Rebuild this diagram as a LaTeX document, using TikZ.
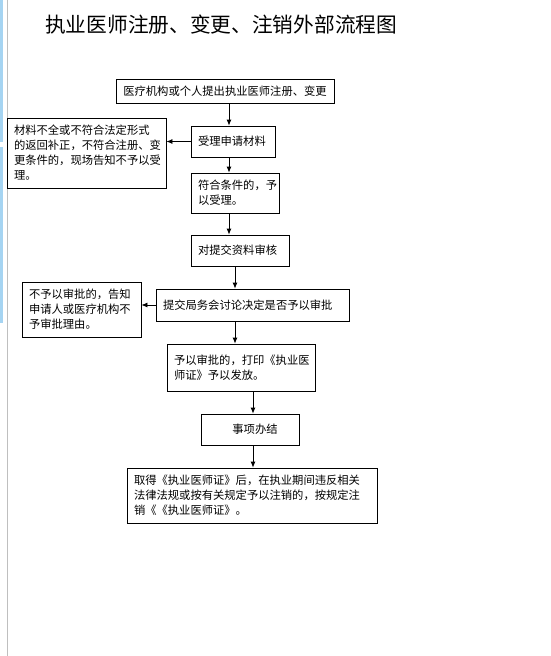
\documentclass[tikz,border=0pt]{standalone}
\usepackage{fontspec}
\setmainfont{Noto Sans CJK SC}
\usetikzlibrary{arrows.meta}
\definecolor{edgeblue}{RGB}{165,212,242}

\begin{document}
\begin{tikzpicture}[x=1pt,y=-1pt,
  box/.style={draw,line width=0.8pt,inner xsep=7pt,inner ysep=2pt,align=left,
    font=\fontsize{11.3}{15}\selectfont},
  arr/.style={line width=0.8pt,-{Latex[length=6pt,width=5pt]}}]
\useasboundingbox (0,0) rectangle (550,656);
% page edge
\fill[edgeblue] (0,0) rectangle (2.5,142);
\fill[edgeblue] (0,147) rectangle (2.5,323);
\draw[black!25,line width=0.8pt] (7,0) -- (7,656);
% title
\node[anchor=west,inner sep=0pt,font=\fontsize{20.7}{24}\selectfont] (title) at (45,25)
  {执业医师注册、变更、注销外部流程图};
% main column
\node[box,align=center,text width=204pt,minimum height=24pt] (apply) at (225,91)
  {医疗机构或个人提出执业医师注册、变更};
\node[box,text width=70pt,minimum height=31pt] (accept) at (233,141.5)
  {受理申请材料};
\node[box,text width=145pt,minimum height=70pt] (reject) at (86.5,153)
  {材料不全或不符合法定形式\\的返回补正，不符合注册、变\\更条件的，现场告知不予以受\\理。};
\node[box,text width=74pt,minimum height=40pt] (ok) at (235,193)
  {符合条件的，予\\以受理。};
\node[box,text width=84pt,minimum height=31pt] (review) at (240,250.5)
  {对提交资料审核};
\node[box,text width=179pt,minimum height=32pt] (meeting) at (252.5,305)
  {提交局务会讨论决定是否予以审批};
\node[box,text width=105pt,minimum height=55pt] (deny) at (81.5,309.5)
  {不予以审批的，告知\\申请人或医疗机构不\\予审批理由。};
\node[box,text width=134pt,minimum height=47pt] (issue) at (241,367.5)
  {予以审批的，打印《执业医\\师证》予以发放。};
\node[box,align=center,text width=84pt,minimum height=31pt] (done) at (250,429.5)
  {\hspace*{10pt}事项办结};
\node[box,text width=236pt,minimum height=55pt] (cancel) at (252,495.5)
  {取得《执业医师证》后，在执业期间违反相关\\法律法规或按有关规定予以注销的，按规定注\\销《《执业医师证》。};
% arrows
\draw[arr] ([xshift=4pt]apply.south) -- ([xshift=4pt]apply.south |- accept.north);
\draw[arr] (accept.west) -- (accept.west -| reject.east);
\draw[arr] ([xshift=-4pt]accept.south) -- ([xshift=-4pt]accept.south |- ok.north);
\draw[arr] ([xshift=-6pt]ok.south) -- ([xshift=-6pt]ok.south |- review.north);
\draw[arr] ([xshift=-5pt]review.south) -- ([xshift=-5pt]review.south |- meeting.north);
\draw[arr] (meeting.west) -- (meeting.west -| deny.east);
\draw[arr] ([xshift=-17.5pt]meeting.south) -- ([xshift=-17.5pt]meeting.south |- issue.north);
\draw[arr] ([xshift=12pt]issue.south) -- ([xshift=12pt]issue.south |- done.north);
\draw[arr] ([xshift=3pt]done.south) -- ([xshift=3pt]done.south |- cancel.north);
\end{tikzpicture}
\end{document}
